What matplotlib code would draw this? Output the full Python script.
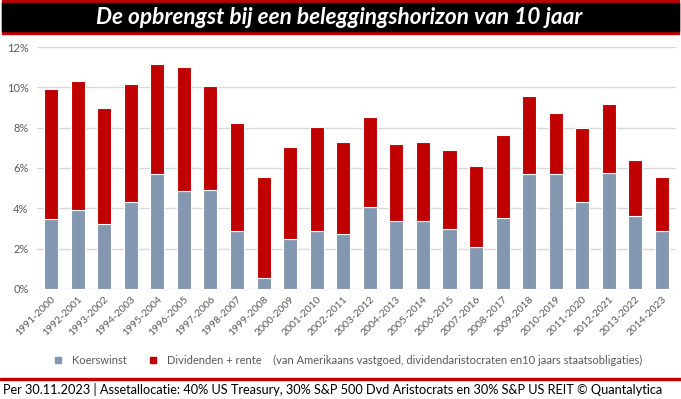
import matplotlib.pyplot as plt
from matplotlib.patches import Rectangle
from matplotlib.lines import Line2D
from matplotlib.ticker import PercentFormatter

periods = ['1991-2000', '1992-2001', '1993-2002', '1994-2003', '1995-2004', '1996-2005',
           '1997-2006', '1998-2007', '1999-2008', '2000-2009', '2001-2010', '2002-2011',
           '2003-2012', '2004-2013', '2005-2014', '2006-2015', '2007-2016', '2008-2017',
           '2009-2018', '2010-2019', '2011-2020', '2012-2021', '2013-2022', '2014-2023']
# koerswinst (grey) and total return, in %
koerswinst = [3.45, 3.90, 3.21, 4.33, 5.72, 4.88, 4.93, 2.89, 0.56, 2.46, 2.86, 2.71,
              4.05, 3.36, 3.36, 2.96, 2.10, 3.50, 5.69, 5.69, 4.33, 5.74, 3.60, 2.86]
totaal = [9.92, 10.31, 8.98, 10.17, 11.16, 11.01, 10.07, 8.23, 5.55, 7.04, 8.03, 7.29,
          8.53, 7.19, 7.29, 6.89, 6.10, 7.64, 9.57, 8.73, 7.98, 9.17, 6.40, 5.55]
dividend = [t - k for t, k in zip(totaal, koerswinst)]

grey = '#8497B0'
red = '#C00000'
txt = '#595959'
plt.rcParams['font.family'] = ['Lato', 'DejaVu Sans']

fig = plt.figure(figsize=(6.81, 3.99), dpi=100)
ax = fig.add_axes([0.0543, 0.2757, 0.9384, 0.6065])

x = range(len(periods))
ax.bar(x, koerswinst, width=0.53, color=grey, edgecolor='white', linewidth=0.8, zorder=3)
ax.bar(x, dividend, width=0.53, bottom=koerswinst, color=red, edgecolor='white', linewidth=0.8, zorder=3)

ax.set_ylim(0, 12)
ax.set_xlim(-0.53, len(periods) - 0.47)
ax.set_yticks(range(0, 13, 2))
ax.yaxis.set_major_formatter(PercentFormatter(decimals=0))
ax.grid(axis='y', color='#D9D9D9', linewidth=1.0, zorder=0)
for s in ['top', 'right', 'left', 'bottom']:
    ax.spines[s].set_visible(False)
ax.tick_params(axis='both', length=0, colors=txt, labelsize=8)
ax.tick_params(axis='y', pad=6)
ax.set_xticks(list(x))
ax.set_xticklabels(periods, rotation=45, ha='right', rotation_mode='anchor', fontsize=7.5)
ax.tick_params(axis='x', pad=4)

# legend
handles = [Line2D([], [], marker='s', ls='', color=grey, markersize=4.5),
           Line2D([], [], marker='s', ls='', color=red, markersize=4.5)]
labels = ['Koerswinst',
          'Dividenden + rente    (van Amerikaans vastgoed, dividendaristocraten en10 jaars staatsobligaties)']
fig.legend(handles, labels, loc='center', bbox_to_anchor=(0.506, 0.096), ncol=2, frameon=False,
           fontsize=8, labelcolor=txt, handletextpad=0.3, columnspacing=1.3)

# title band
fig.patches.append(Rectangle((2 / 681, 1 - 34 / 399), 677 / 681, 34 / 399,
                             transform=fig.transFigure, color=red, zorder=0))
fig.patches.append(Rectangle((2 / 681, 1 - 31 / 399), 677 / 681, 28 / 399,
                             transform=fig.transFigure, color='black', zorder=1))
fig.text(0.498, 1 - 17 / 399, 'De opbrengst bij een beleggingshorizon van 10 jaar',
         color='white', fontsize=16.3, fontweight='bold', fontstyle='italic',
         ha='center', va='center')

# footer
fig.patches.append(Rectangle((0, 1 - 380 / 399), 1, 2 / 399,
                             transform=fig.transFigure, color=red))
fig.text(0.004, 1 - 390 / 399,
         'Per 30.11.2023 | Assetallocatie: 40% US Treasury, 30% S&P 500 Dvd Aristocrats en 30% S&P US REIT \u00a9 Quantalytica',
         color='black', fontsize=9.2, ha='left', va='center')

fig.savefig('out.png', dpi=100)
